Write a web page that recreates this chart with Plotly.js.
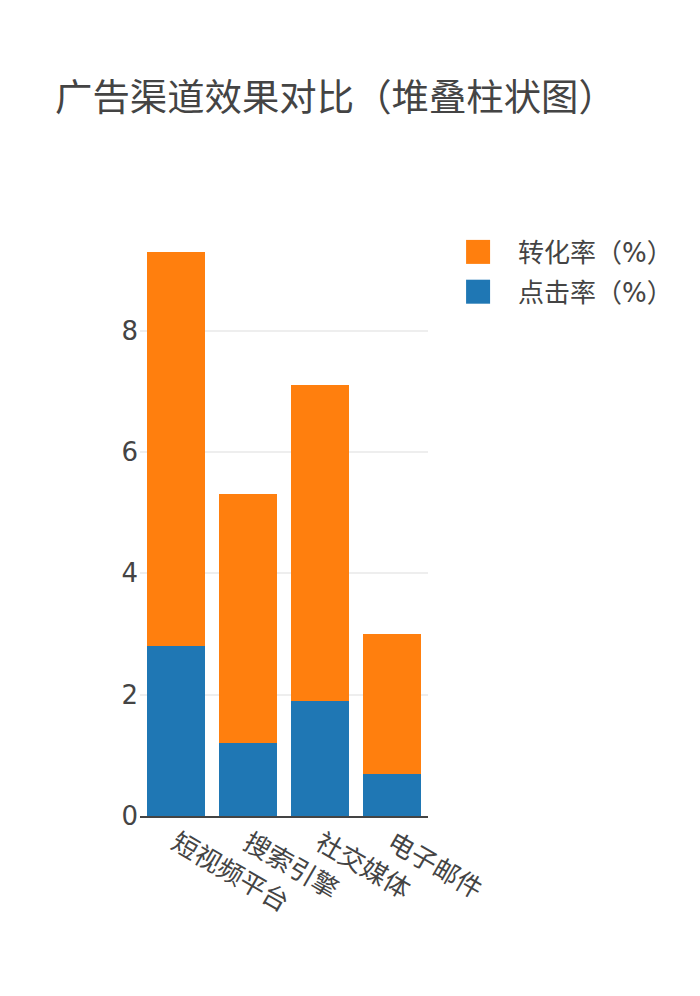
<!DOCTYPE html>
<html>
<head>
<meta charset="utf-8">
<script src="https://cdn.plot.ly/plotly-3.0.1.min.js"></script>
<style>
html,body{margin:0;padding:0;background:#fff;overflow:hidden;}
#wrap{width:700px;height:996px;overflow:hidden;position:relative;}
#chart{width:360px;height:498px;transform:scale(2);transform-origin:0 0;position:absolute;left:0;top:0;}
</style>
</head>
<body>
<div id="wrap"><div id="chart"></div></div>
<script>
const categories = ["短视频平台", "搜索引擎", "社交媒体", "电子邮件"];
const clickRate = [2.8, 1.2, 1.9, 0.7];
const conversionRate = [6.5, 4.1, 5.2, 2.3];
const seriesNames = ["点击率（%）", "转化率（%）"];
const chartTitle = "广告渠道效果对比（堆叠柱状图）";

const traces = [
  {type: "bar", name: seriesNames[0], x: categories, y: clickRate, marker: {color: "#1f77b4"}},
  {type: "bar", name: seriesNames[1], x: categories, y: conversionRate, marker: {color: "#ff7f0e"}}
];

const layout = {
  width: 360,
  height: 498,
  barmode: "stack",
  title: {text: chartTitle, x: 0.0764, xanchor: "left", font: {size: 18.7}},
  font: {family: "'DejaVu Sans', 'Noto Sans CJK SC', sans-serif", size: 13, color: "#444"},
  margin: {l: 70, r: 146, t: 111, b: 90},
  legend: {x: 1.035},
  xaxis: {tickangle: 30, automargin: false, showline: true, linecolor: "#444", linewidth: 1},
  yaxis: {automargin: false, gridcolor: "#eee", zeroline: false},
  paper_bgcolor: "#fff",
  plot_bgcolor: "#fff"
};

Plotly.newPlot("chart", traces, layout, {displayModeBar: false, staticPlot: true});
</script>
</body>
</html>
